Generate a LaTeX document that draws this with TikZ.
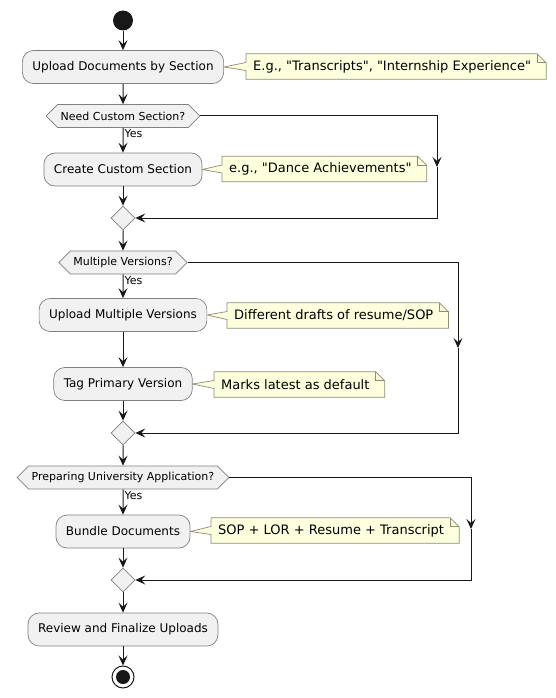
\documentclass[tikz,border=0pt]{standalone}
\usepackage{fontspec}
\setmainfont{DejaVu Sans}
\usetikzlibrary{arrows.meta,shapes.symbols,shapes.geometric,backgrounds,positioning}
\definecolor{boxfill}{HTML}{F1F1F1}
\definecolor{boxline}{HTML}{808080}
\definecolor{notefill}{HTML}{FEFFDD}
\definecolor{noteline}{HTML}{8C8C78}
\definecolor{lineclr}{HTML}{181818}
\begin{document}
\begin{tikzpicture}[x=1pt, y=-1pt,
    act/.style={rectangle, rounded corners=11pt, draw=boxline, fill=boxfill, line width=0.7pt,
        minimum height=33pt, inner xsep=10pt, font=\fontsize{12}{14}\selectfont},
    ask/.style={signal, signal to=west and east, signal pointer angle=90, draw=boxline,
        fill=boxfill, line width=0.7pt, minimum height=23pt, inner xsep=3pt, inner ysep=0pt,
        font=\fontsize{11}{13}\selectfont},
    merge/.style={diamond, draw=boxline, fill=boxfill, line width=0.7pt, minimum size=24pt, inner sep=0pt},
    note/.style={rectangle, anchor=west, minimum height=25pt, inner xsep=7pt,
        font=\fontsize{13}{15}\selectfont, execute at end node=\hspace{8pt}},
    noteedge/.style={draw=noteline, fill=notefill, line width=0.7pt},
    yes/.style={anchor=west, inner sep=1pt, font=\fontsize{11}{13}\selectfont},
    flow/.style={draw=lineclr, line width=1pt, -{Stealth[length=10pt, width=9pt, inset=4pt]}},
]
\useasboundingbox (0,0) rectangle (556,698);

% Start
\node[circle, fill=lineclr, minimum size=20pt, inner sep=0pt] (start) at (123,20.5) {};

% Sections
\node[act] (up) at (123,67) {Upload Documents by Section};
\node[note] (n1) at (246,66.5) {E.g., \textquotedbl Transcripts\textquotedbl, \textquotedbl Internship Experience\textquotedbl};

\node[ask] (d1) at (123,116) {Need Custom Section?};
\node[act] (cc) at (123,169.5) {Create Custom Section};
\node[note] (n2) at (222,169) {e.g., \textquotedbl Dance Achievements\textquotedbl};
\node[merge] (m1) at (123,218) {};
\coordinate (k1) at (437,167);

% Versions
\node[ask] (d2) at (123,262.5) {Multiple Versions?};
\node[act] (umv) at (123,315) {Upload Multiple Versions};
\node[note] (n3) at (227,315.5) {Different drafts of resume/SOP};
\node[act] (tag) at (123,384) {Tag Primary Version};
\node[note] (n4) at (214,384.5) {Marks latest as default};
\node[merge] (m2) at (123,433) {};
\coordinate (k2) at (458,348);

% Application
\node[ask] (d3) at (123,477.5) {Preparing University Application?};
\node[act] (bun) at (123,531.5) {Bundle Documents};
\node[note] (n5) at (211,530.5) {SOP + LOR + Resume + Transcript};
\node[merge] (m3) at (123,580) {};
\coordinate (k3) at (471,529);

\node[act] (rev) at (123,629.5) {Review and Finalize Uploads};

% Stop
\node[circle, draw=lineclr, fill=white, line width=1pt, minimum size=22pt, inner sep=0pt] (stop) at (123,677) {};
\node[circle, fill=lineclr, minimum size=14pt, inner sep=0pt] (stopdot) at (stop) {};

% Note outlines
\begin{pgfonlayer}{background}
\foreach \n/\b in {n1/up, n2/cc, n3/umv, n4/tag, n5/bun}{
    \draw[noteedge] (\n.north west) -- ([xshift=-9pt]\n.north east) -- ([yshift=-9pt]\n.north east)
        -- (\n.south east) -- (\n.south west) -- ([yshift=-4pt]\n.west) -- (\b.east)
        -- ([yshift=4pt]\n.west) -- cycle;
    \draw[noteedge, fill=none] ([xshift=-9pt]\n.north east) |- ([yshift=-9pt]\n.north east);
}
\end{pgfonlayer}

% Flow
\draw[flow] (start) -- (up);
\draw[flow] (up) -- (d1);
\draw[flow] (d1) -- node[yes, pos=0.25] (y1) {Yes} (cc);
\draw[flow] (cc) -- (m1);
\draw[flow] (d1.east) -| (k1);
\draw[flow] (k1) |- (m1.east);

\draw[flow] (m1) -- (d2);
\draw[flow] (d2) -- node[yes, pos=0.25] (y2) {Yes} (umv);
\draw[flow] (umv) -- (tag);
\draw[flow] (tag) -- (m2);
\draw[flow] (d2.east) -| (k2);
\draw[flow] (k2) |- (m2.east);

\draw[flow] (m2) -- (d3);
\draw[flow] (d3) -- node[yes, pos=0.25] (y3) {Yes} (bun);
\draw[flow] (bun) -- (m3);
\draw[flow] (d3.east) -| (k3);
\draw[flow] (k3) |- (m3.east);

\draw[flow] (m3) -- (rev);
\draw[flow] (rev) -- (stop);

\end{tikzpicture}
\end{document}
